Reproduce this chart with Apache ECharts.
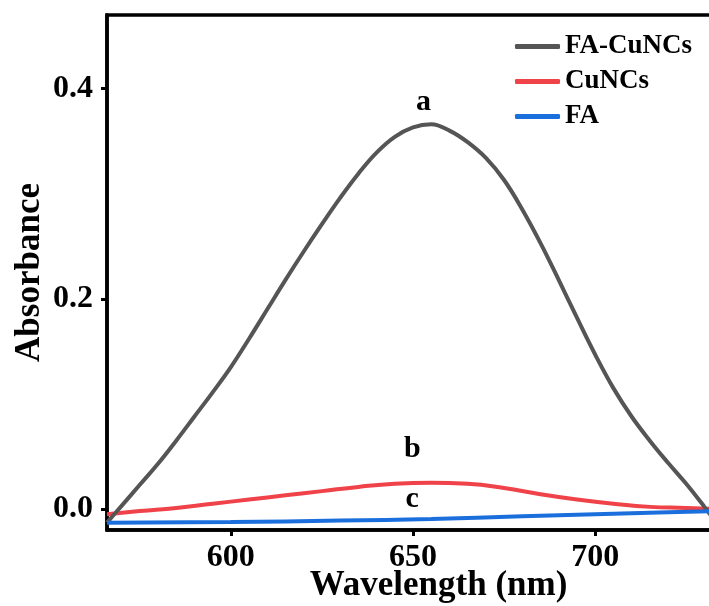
<!DOCTYPE html>
<html>
<head>
<meta charset="utf-8">
<script src="https://cdn.jsdelivr.net/npm/echarts@6/dist/echarts.min.js"></script>
<style>
html,body{margin:0;padding:0;background:#fff;}
#main{width:709px;height:606px;}
</style>
</head>
<body>
<div id="main"></div>
<script>
// Data
var faCuncsWl = [566,570,575,580,585,590,595,600,605,610,615,620,625,630,635,640,645,650,655,660,665,670,675,680,685,690,695,700,705,710,715,720,725,730,733];
var faCuncsAbs = [-0.013,0.003,0.023,0.043,0.065,0.088,0.111,0.135,0.162,0.190,0.218,0.245,0.271,0.296,0.319,0.339,0.354,0.363,0.366,0.360,0.349,0.334,0.313,0.285,0.253,0.218,0.182,0.147,0.115,0.088,0.065,0.044,0.024,0.002,-0.012];

var cuncsWl = [566,575,585,595,605,615,625,635,645,655,665,675,685,695,705,715,725,733];
var cuncsAbs = [-0.005,-0.002,0.001,0.005,0.009,0.013,0.017,0.021,0.024,0.025,0.024,0.020,0.014,0.009,0.005,0.002,0.001,0.0];

var faWl = [566,600,630,655,680,700,720,733];
var faAbs = [-0.013,-0.0125,-0.011,-0.0095,-0.007,-0.005,-0.003,-0.002];

var xTicks = [600,650,700];
var yTicks = [0.0,0.2,0.4];

var curveLabels = ['a','b','c'];
var curveLabelWl = [652.9,649.8,649.8];
var curveLabelAbs = [0.387,0.0565,0.0089];

var seriesNames = ['FA-CuNCs','CuNCs','FA'];
var colors = ['#555555','#ef4249','#1b6fdd'];

function pairs(xs, ys){ return xs.map(function(x,i){ return [x, ys[i]]; }); }

var font = 'Liberation Serif, Times New Roman, serif';
var chart = echarts.init(document.getElementById('main'));

chart.setOption({
  animation:false,
  backgroundColor:'#fff',
  grid:{left:107, top:15, right:-61, bottom:76, show:true, borderColor:'#000', borderWidth:3.5,
    backgroundColor:'transparent', outerBoundsMode:'none', containLabel:false},
  legend:{
    orient:'vertical', left:510, top:28, itemWidth:45, itemHeight:5, itemGap:8, icon:'roundRect',
    data:seriesNames,
    textStyle:{fontFamily:font, fontWeight:'bold', fontSize:27, color:'#000'}
  },
  xAxis:{
    type:'value', min:566, max:748,
    axisLine:{show:true, onZero:false, lineStyle:{color:'#000', width:3.5}},
    axisTick:{show:true, inside:false, length:6, lineStyle:{color:'#000', width:3}, customValues:xTicks},
    axisLabel:{show:true, margin:12, fontFamily:font, fontWeight:'bold', fontSize:32, color:'#000', customValues:xTicks},
    splitLine:{show:false},
    name:'Wavelength (nm)', nameLocation:'middle', nameGap:38, nameMoveOverlap:false,
    nameTextStyle:{fontFamily:font, fontWeight:'bold', fontSize:35, color:'#000'}
  },
  yAxis:{
    type:'value', min:-0.02, max:0.47,
    axisLine:{show:true, onZero:false, lineStyle:{color:'#000', width:3.5}},
    axisTick:{show:true, inside:false, length:6, lineStyle:{color:'#000', width:3}, customValues:yTicks},
    axisLabel:{show:true, margin:14, fontFamily:font, fontWeight:'bold', fontSize:32, color:'#000', customValues:yTicks,
      formatter:function(v){ return v.toFixed(1); }},
    splitLine:{show:false},
    name:'Absorbance', nameLocation:'middle', nameGap:60, nameRotate:90, nameMoveOverlap:false,
    nameTextStyle:{fontFamily:font, fontWeight:'bold', fontSize:35, color:'#000'}
  },
  series:[
    {name:seriesNames[0], type:'line', data:pairs(faCuncsWl, faCuncsAbs), smooth:0.4, symbol:'none',
      lineStyle:{color:colors[0], width:4}, itemStyle:{color:colors[0]}, z:3},
    {name:seriesNames[1], type:'line', data:pairs(cuncsWl, cuncsAbs), smooth:0.5, symbol:'none',
      lineStyle:{color:colors[1], width:4}, itemStyle:{color:colors[1]}, z:2},
    {name:seriesNames[2], type:'line', data:pairs(faWl, faAbs), smooth:0.5, symbol:'none',
      lineStyle:{color:colors[2], width:4}, itemStyle:{color:colors[2]}, z:4}
  ]
});

// Curve letters placed at data coordinates through the chart's own scales
chart.setOption({
  graphic: curveLabels.map(function(t,i){
    var p = chart.convertToPixel({gridIndex:0}, [curveLabelWl[i], curveLabelAbs[i]]);
    return {type:'text', x:p[0], y:p[1], z:100,
      style:{text:t, fill:'#000', font:'bold 30px ' + font, align:'center', verticalAlign:'middle'}};
  })
});
</script>
</body>
</html>
